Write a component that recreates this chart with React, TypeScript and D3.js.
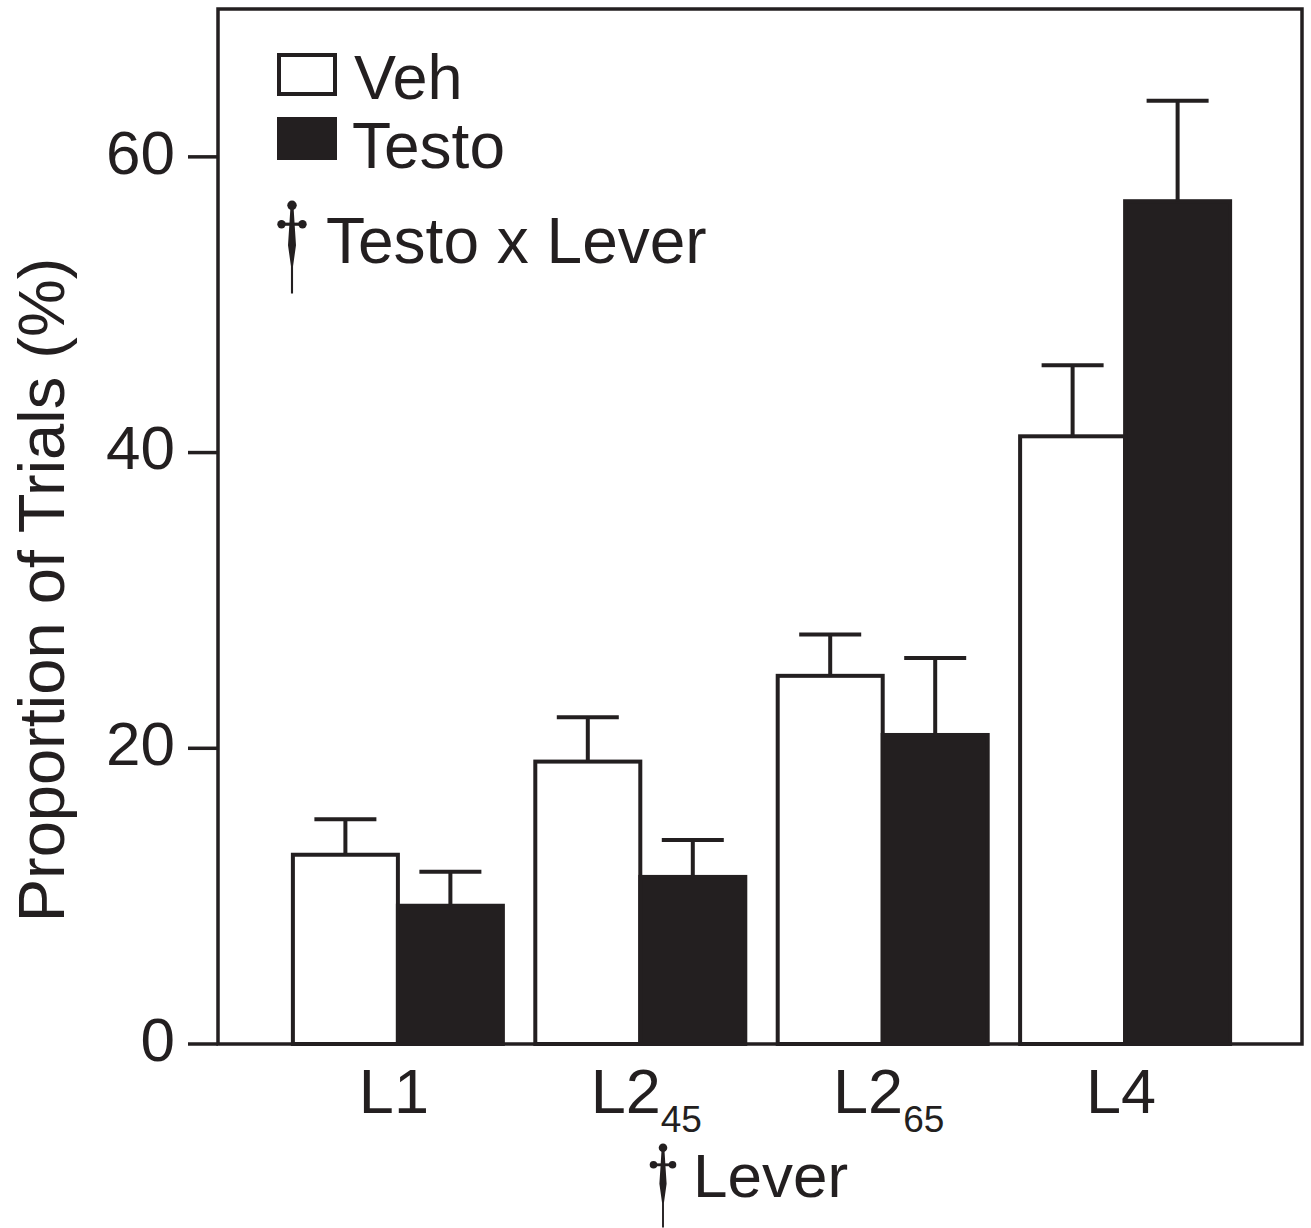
import React from 'react';
import * as d3 from 'd3';

// values (percent of trials, mean and SEM)
const levers = ['L1', 'L2_45', 'L2_65', 'L4'];
const leverMain = ['L1', 'L2', 'L2', 'L4'];
const leverSub = ['', '45', '65', ''];
const groups = ['Veh', 'Testo'];
const vehMeans = [12.8, 19.1, 24.9, 41.1];
const vehSem = [2.4, 3.0, 2.8, 4.8];
const testoMeans = [9.35, 11.3, 20.9, 57.0];
const testoSem = [2.3, 2.5, 5.2, 6.8];
const yTicks = [0, 20, 40, 60];

const W = 1311;
const H = 1228;
const INK = '#231f20';
const FONT = '"Liberation Sans", Arial, Helvetica, sans-serif';

const frame = { left: 218, right: 1302, top: 9, bottom: 1044 };

// stylised dagger for the significance mark, drawn around (x, baseline)
function Dagger({ x, y, s = 1 }: { x: number; y: number; s?: number }) {
  return (
    <g transform={`translate(${x},${y}) scale(${s})`} fill={INK}>
      <circle cx={0} cy={-54} r={4.5} />
      <circle cx={-10} cy={-36} r={4} />
      <circle cx={10} cy={-36} r={4} />
      <rect x={-10} y={-37.5} width={20} height={3} />
      <path d="M-1.5,-52 L1.5,-52 L2.5,-36 L3.8,-16 L1,4 L1,30 L-1,30 L-1,4 L-3.8,-16 L-2.5,-36 Z" />
    </g>
  );
}

export default function App() {
  const x = d3
    .scaleBand<string>()
    .domain(levers)
    .range([276.7, 1246.3])
    .paddingInner(0.1337)
    .paddingOuter(0.0668);

  const xs = d3.scaleBand<string>().domain(groups).range([0, x.bandwidth()]).padding(0);

  const y = d3.scaleLinear().domain([0, 70]).range([frame.bottom, frame.top]);

  const rows = levers.flatMap((lv, i) => [
    { lever: lv, group: 'Veh', mean: vehMeans[i], sem: vehSem[i] },
    { lever: lv, group: 'Testo', mean: testoMeans[i], sem: testoSem[i] },
  ]);

  const capW = 62;

  return (
    <svg
      width={W}
      height={H}
      style={{ position: 'absolute', left: 0, top: 0, background: '#fff' }}
      fontFamily={FONT}
    >
      <rect x={0} y={0} width={W} height={H} fill="#fff" />

      {/* bars */}
      {rows.map((d, i) => {
        const bx = (x(d.lever) as number) + (xs(d.group) as number);
        const bw = xs.bandwidth();
        const veh = d.group === 'Veh';
        return (
          <rect
            key={'b' + i}
            x={bx}
            y={y(d.mean)}
            width={bw}
            height={y(0) - y(d.mean)}
            fill={veh ? '#fff' : INK}
            stroke={INK}
            strokeWidth={4}
          />
        );
      })}

      {/* error bars (upper only) */}
      {rows.map((d, i) => {
        const cx = (x(d.lever) as number) + (xs(d.group) as number) + xs.bandwidth() / 2;
        const top = y(d.mean + d.sem);
        return (
          <g key={'e' + i} stroke={INK} strokeWidth={4}>
            <line x1={cx} x2={cx} y1={y(d.mean)} y2={top} />
            <line x1={cx - capW / 2} x2={cx + capW / 2} y1={top} y2={top} />
          </g>
        );
      })}

      {/* frame */}
      <rect
        x={frame.left}
        y={frame.top}
        width={frame.right - frame.left}
        height={frame.bottom - frame.top}
        fill="none"
        stroke={INK}
        strokeWidth={3.5}
      />

      {/* y ticks */}
      {yTicks.map((t) => (
        <g key={'t' + t}>
          <line x1={frame.left - 30} x2={frame.left} y1={y(t)} y2={y(t)} stroke={INK} strokeWidth={3.5} />
          <text
            x={frame.left - 43}
            y={y(t)}
            dy="0.27em"
            textAnchor="end"
            fontSize={62}
            fill={INK}
          >
            {t}
          </text>
        </g>
      ))}

      {/* y title */}
      <text
        transform={`translate(64,590) rotate(-90)`}
        textAnchor="middle"
        fontSize={65}
        fill={INK}
      >
        Proportion of Trials (%)
      </text>

      {/* x labels */}
      {levers.map((lv, i) => (
        <text
          key={'x' + lv}
          x={(x(lv) as number) + x.bandwidth() / 2 + (leverSub[i] ? 6 : -4)}
          y={1113}
          textAnchor="middle"
          fontSize={63}
          fill={INK}
        >
          <tspan>{leverMain[i]}</tspan>
          {leverSub[i] && (
            <tspan fontSize={37} dy={19}>
              {leverSub[i]}
            </tspan>
          )}
        </text>
      ))}

      {/* x title */}
      <Dagger x={663} y={1199} s={0.95} />
      <text x={693} y={1197} fontSize={62} fill={INK}>
        Lever
      </text>

      {/* legend */}
      <rect x={279} y={55} width={56} height={39} fill="#fff" stroke={INK} strokeWidth={4} />
      <text x={354} y={99} fontSize={63} fill={INK}>
        Veh
      </text>
      <rect x={277} y={117} width={60} height={43} fill={INK} />
      <text x={352} y={168} fontSize={64} fill={INK}>
        Testo
      </text>
      <Dagger x={292} y={262} s={1.05} />
      <text x={326} y={263} fontSize={64} fill={INK}>
        Testo x Lever
      </text>
    </svg>
  );
}
